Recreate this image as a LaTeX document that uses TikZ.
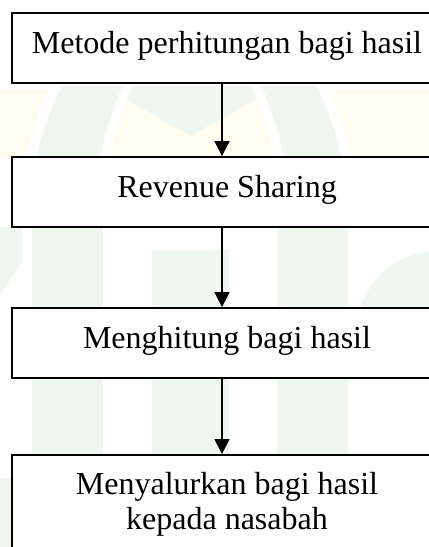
\documentclass[tikz,border=0pt]{standalone}
\usepackage{fontspec}
\setmainfont{Liberation Serif}
\usetikzlibrary{arrows.meta}
\definecolor{wmgreen}{RGB}{240,247,240}
\definecolor{wmyellow}{RGB}{255,252,240}
\tikzset{
  stepbox/.style={draw=black, line width=1.8pt, fill=white, minimum width=430pt, minimum height=70pt, inner sep=0pt, text height=21pt, text depth=11pt, font=\fontsize{32}{35}\selectfont},
  flowarrow/.style={line width=1.8pt, -{Triangle[width=15pt,length=15pt]}},
  boxtext/.style={align=center, inner sep=0pt, font=\fontsize{32}{35}\selectfont}
}
\begin{document}
\begin{tikzpicture}[x=1pt,y=-1pt]
\useasboundingbox (0,0) rectangle (429,547);
\clip (0,0) rectangle (429,547);
\fill[white] (0,0) rectangle (429,547);
% watermark (faint)
\begin{scope}
  \clip (0,86) rectangle (429,157);
  \fill[wmyellow] (0,90) rectangle (429,157);
  \fill[white] (189,250) ellipse [x radius=173, y radius=273];
  \fill[wmgreen] (189,250) ellipse [x radius=163, y radius=263];
  \fill[white] (192,300) ellipse [x radius=107, y radius=280];
  \fill[wmyellow] (192,300) ellipse [x radius=97, y radius=270];
  \begin{scope}
    \clip (192,300) ellipse [x radius=97, y radius=270];
    \fill[wmgreen] (100,83) -- (145,110) -- (190,136) -- (237,110) -- (285,83) -- cycle;
  \end{scope}
\end{scope}
\begin{scope}
  \clip (0,227) rectangle (429,308);
  \fill[wmgreen] (0,227) -- (22,227) -- (22,262) -- (0,295) -- cycle;
  \fill[wmgreen] (32,227) rectangle (103,308);
  \fill[wmgreen] (152,250) rectangle (229,308);
  \fill[wmgreen] (277,227) rectangle (348,308);
  \fill[wmgreen] (360,308) .. controls (372,275) and (395,256) .. (429,252) -- (429,308) -- cycle;
\end{scope}
\begin{scope}
  \clip (0,378) rectangle (429,454);
  \fill[wmgreen] (32,378) rectangle (103,454);
  \fill[wmgreen] (152,378) rectangle (229,454);
  \fill[wmgreen] (277,378) rectangle (348,454);
\end{scope}
\fill[wmgreen] (0,478) rectangle (11,547);
% boxes
\node[stepbox] (b1) at (227,48) {Metode perhitungan bagi hasil};
\node[stepbox] (b2) at (227,192) {Revenue Sharing};
\node[stepbox] (b3) at (227,343) {Menghitung bagi hasil};
\node[stepbox, minimum height=140pt, anchor=north] (b4) at (227,454) {};
\node[boxtext, anchor=base] (b4t) at (227,529) {Menyalurkan bagi hasil\\kepada nasabah};
% arrows
\draw[flowarrow] ([xshift=-5pt]b1.south) -- ([xshift=-5pt]b2.north);
\draw[flowarrow] ([xshift=-5pt]b2.south) -- ([xshift=-5pt]b3.north);
\draw[flowarrow] ([xshift=-5pt]b3.south) -- ([xshift=-5pt]b4.north);
\end{tikzpicture}
\end{document}
